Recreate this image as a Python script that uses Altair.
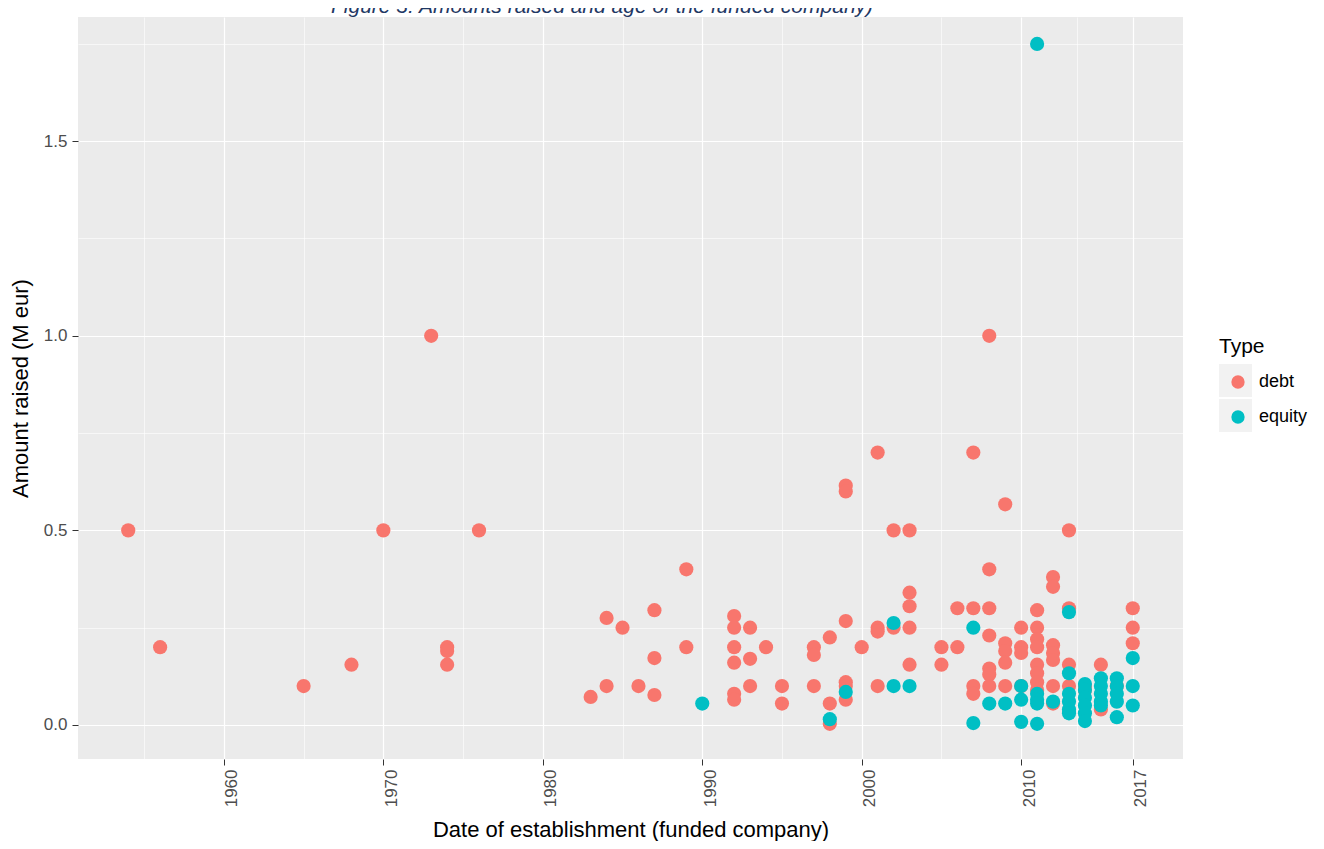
import altair as alt
import pandas as pd

# ---- data ----
debt_year = [
    1954, 1956, 1965, 1968, 1970, 1973, 1974, 1974, 1974, 1976,
    1983, 1984, 1984, 1985, 1986, 1987, 1987, 1987, 1989, 1989,
    1992, 1992, 1992, 1992, 1992, 1992, 1993, 1993, 1993, 1994,
    1995, 1995, 1997, 1997, 1997, 1998, 1998, 1998,
    1999, 1999, 1999, 1999, 1999, 1999, 2000, 2001, 2001, 2001, 2001,
    2002, 2002, 2003, 2003, 2003, 2003, 2003, 2005, 2005, 2006, 2006,
    2007, 2007, 2007, 2007,
    2008, 2008, 2008, 2008, 2008, 2008, 2008,
    2009, 2009, 2009, 2009, 2009,
    2010, 2010, 2010, 2010,
    2011, 2011, 2011, 2011, 2011, 2011, 2011, 2011,
    2012, 2012, 2012, 2012, 2012, 2012, 2012,
    2013, 2013, 2013, 2013, 2014, 2014, 2015, 2015, 2016, 2017, 2017, 2017,
]
debt_amount = [
    0.5, 0.2, 0.1, 0.155, 0.5, 1.0, 0.2, 0.19, 0.155, 0.5,
    0.072, 0.275, 0.1, 0.25, 0.1, 0.295, 0.172, 0.077, 0.4, 0.2,
    0.28, 0.25, 0.2, 0.16, 0.08, 0.065, 0.25, 0.17, 0.1, 0.2,
    0.1, 0.055, 0.2, 0.18, 0.1, 0.225, 0.055, 0.003,
    0.615, 0.6, 0.267, 0.11, 0.1, 0.065, 0.2, 0.7, 0.25, 0.24, 0.1,
    0.5, 0.25, 0.5, 0.34, 0.305, 0.25, 0.155, 0.2, 0.155, 0.3, 0.2,
    0.7, 0.3, 0.1, 0.08,
    1.0, 0.4, 0.3, 0.23, 0.145, 0.13, 0.1,
    0.567, 0.21, 0.19, 0.16, 0.1,
    0.25, 0.2, 0.185, 0.1,
    0.295, 0.25, 0.22, 0.2, 0.155, 0.133, 0.11, 0.09,
    0.38, 0.355, 0.205, 0.185, 0.167, 0.1, 0.055,
    0.5, 0.3, 0.155, 0.1, 0.1, 0.09, 0.155, 0.04, 0.1, 0.3, 0.25, 0.21,
]
equity_year = [
    1990, 1998, 1999, 2002, 2002, 2003, 2007, 2007, 2008, 2009,
    2010, 2010, 2010, 2011, 2011, 2011, 2011, 2011, 2012,
    2013, 2013, 2013, 2013, 2013, 2013,
    2014, 2014, 2014, 2014, 2014, 2014,
    2015, 2015, 2015, 2015, 2015,
    2016, 2016, 2016, 2016, 2016,
    2017, 2017, 2017,
]
equity_amount = [
    0.055, 0.015, 0.085, 0.262, 0.1, 0.1, 0.25, 0.005, 0.055, 0.055,
    0.1, 0.065, 0.008, 1.75, 0.08, 0.065, 0.055, 0.003, 0.06,
    0.29, 0.133, 0.08, 0.06, 0.04, 0.03,
    0.105, 0.09, 0.07, 0.05, 0.03, 0.01,
    0.12, 0.1, 0.08, 0.06, 0.05,
    0.12, 0.1, 0.08, 0.06, 0.02,
    0.172, 0.1, 0.05,
]
types = ["debt", "equity"]
type_colors = ["#F8766D", "#00BFC4"]
x_major = [1960, 1970, 1980, 1990, 2000, 2010, 2017]
x_minor = [1955, 1965, 1975, 1985, 1995, 2005, 2013.5]
y_major = [0.0, 0.5, 1.0, 1.5]
y_minor = [0.25, 0.75, 1.25, 1.75]
title_text = ["Figure 3: Amounts raised and age of the funded company)"]

df = pd.concat([
    pd.DataFrame({"year": debt_year, "amount": debt_amount, "Type": types[0]}),
    pd.DataFrame({"year": equity_year, "amount": equity_amount, "Type": types[1]}),
], ignore_index=True)
title_df = pd.DataFrame({"t": title_text})

FONT = "Liberation Sans"
xscale = alt.Scale(domain=[1950.85, 2020.15], nice=False, zero=False)
yscale = alt.Scale(domain=[-0.0874, 1.8191], nice=False, zero=False)

base = alt.Chart(df)

# minor grid lines (ggplot style)
minor = base.mark_circle(opacity=0).encode(
    x=alt.X("year:Q", scale=xscale,
            axis=alt.Axis(values=x_minor, orient="top", grid=True, gridColor="white",
                          gridWidth=0.6, labels=False, ticks=False, domain=False, title=None)),
    y=alt.Y("amount:Q", scale=yscale,
            axis=alt.Axis(values=y_minor, orient="right", grid=True, gridColor="white",
                          gridWidth=0.6, labels=False, ticks=False, domain=False, title=None)),
)

# light grey legend key boxes (drawn under the coloured key symbols)
keys = base.mark_square(opacity=0, size=1).encode(
    x=alt.X("year:Q", scale=xscale, axis=None),
    y=alt.Y("amount:Q", scale=yscale, axis=None),
    color=alt.Color("Type:N",
                    scale=alt.Scale(domain=types, range=["#F2F2F2", "#F2F2F2"]),
                    legend=alt.Legend(orient="none", legendX=1141, legendY=347, title=None,
                                      symbolType="square", symbolSize=1089,
                                      symbolOpacity=1, symbolStrokeWidth=0,
                                      labelExpr="''", labelFontSize=10, rowPadding=2)),
)

points = base.mark_circle(size=201, opacity=1, strokeWidth=0).encode(
    x=alt.X("year:Q", scale=xscale,
            axis=alt.Axis(values=x_major, orient="bottom", format="d", labelAngle=270,
                          labelAlign="right", labelBaseline="top",
                          grid=True, gridColor="white", gridWidth=1.2,
                          domain=False, tickColor="#333333", tickSize=6, tickWidth=1,
                          labelColor="#4D4D4D", labelFontSize=17, labelPadding=4,
                          labelFont=FONT,
                          title="Date of establishment (funded company)",
                          titleFontSize=22, titleFontWeight="normal", titleColor="black",
                          titleFont=FONT, titlePadding=13)),
    y=alt.Y("amount:Q", scale=yscale,
            axis=alt.Axis(values=y_major, orient="left", format=".1f",
                          grid=True, gridColor="white", gridWidth=1.2,
                          domain=False, tickColor="#333333", tickSize=6, tickWidth=1,
                          labelColor="#4D4D4D", labelFontSize=17, labelPadding=5,
                          labelFont=FONT,
                          title="Amount raised (M eur)",
                          titleFontSize=22, titleFontWeight="normal", titleColor="black",
                          titleFont=FONT, titlePadding=11)),
    fill=alt.Fill("Type:N",
                  scale=alt.Scale(range=type_colors),
                  legend=alt.Legend(orient="none", legendX=1141, legendY=319,
                                    title="Type", titleFontSize=21, titleFont=FONT,
                                    titleFontWeight="normal", titleColor="black",
                                    titlePadding=16,
                                    labelFontSize=18, labelFont=FONT, labelColor="black",
                                    symbolType="circle", symbolSize=177,
                                    symbolOpacity=1, symbolStrokeWidth=0,
                                    symbolOffset=10, labelOffset=12, rowPadding=17)),
)

# figure caption, cut off by the top edge as in the reference
caption = alt.Chart(title_df).mark_text(
    font=FONT, fontSize=21, fontStyle="italic", color="#1F3864",
    align="left", baseline="alphabetic",
).encode(text="t:N", x=alt.value(253), y=alt.value(-4))

chart = alt.layer(minor, keys, points, caption).resolve_axis(
    x="independent", y="independent"
).resolve_scale(color="independent", fill="independent").properties(
    width=1105,
    height=742,
    padding={"left": 70, "top": 9, "right": 133, "bottom": 82},
    autosize=alt.AutoSizeParams(type="none"),
).configure_view(fill="#EBEBEB", stroke=None)

chart.save("out.html", embed_options={"renderer": "svg", "actions": False})
